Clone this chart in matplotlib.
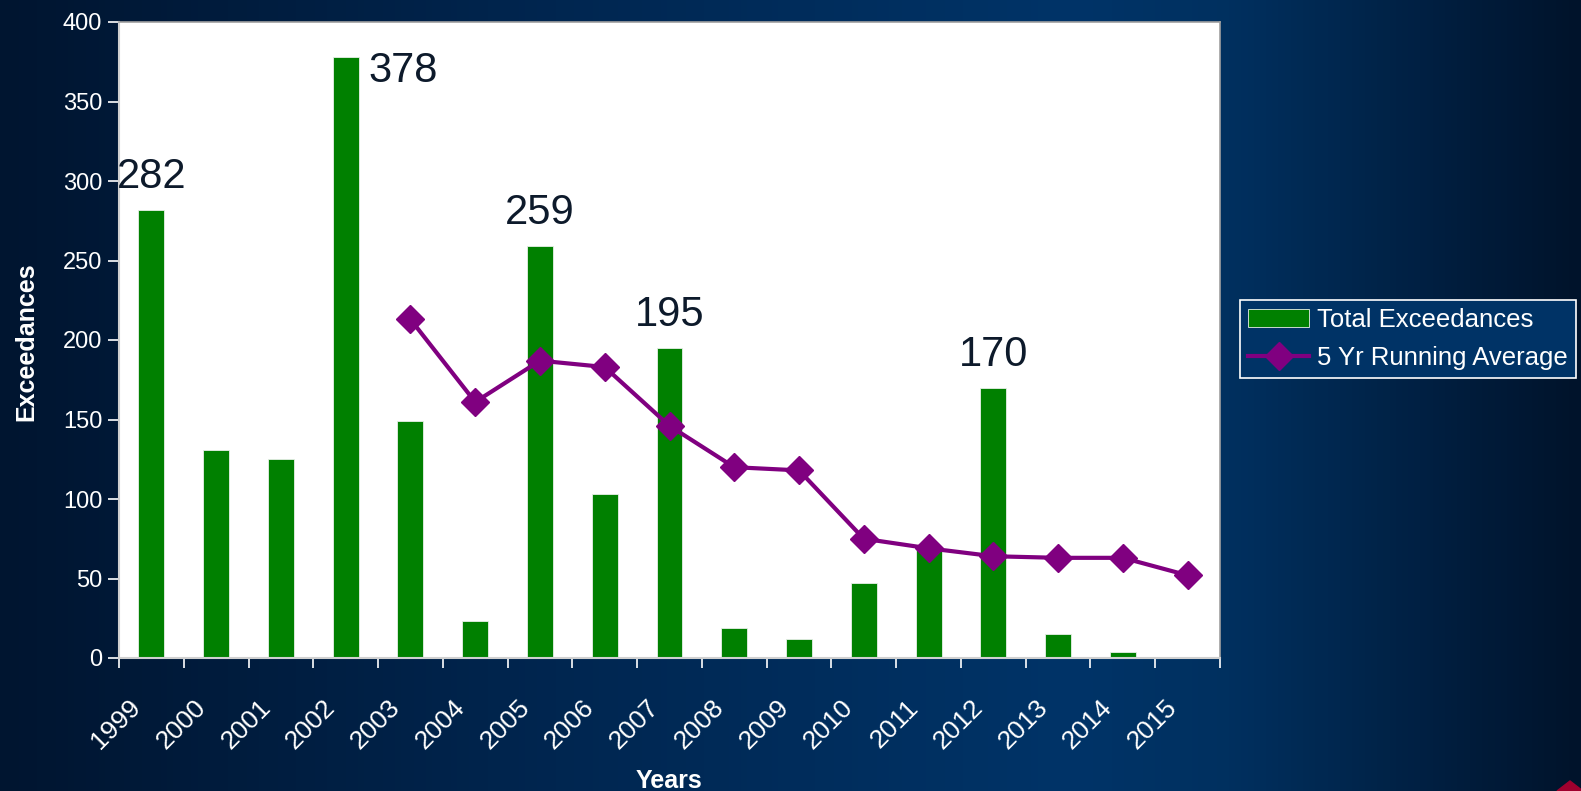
import numpy as np
import matplotlib
matplotlib.use("Agg")
import matplotlib.pyplot as plt
from matplotlib.colors import LinearSegmentedColormap
from matplotlib.patches import Polygon

plt.rcParams['font.family'] = ['Liberation Sans', 'DejaVu Sans']

years = ['1999', '2000', '2001', '2002', '2003', '2004', '2005', '2006', '2007',
         '2008', '2009', '2010', '2011', '2012', '2013', '2014', '2015']
total_exceedances = [282, 131, 125, 378, 149, 23, 259, 103, 195, 19, 12, 47, 70, 170, 15, 4, 0]
avg_years = ['2003', '2004', '2005', '2006', '2007', '2008', '2009', '2010',
             '2011', '2012', '2013', '2014', '2015']
running_average = [213, 161, 187, 183, 146, 120, 118, 75, 69, 64, 63, 63, 52]
labelled_years = ['1999', '2002', '2005', '2007', '2012']

W, H = 1581, 791
fig = plt.figure(figsize=(W / 100, H / 100), dpi=100)

# background gradient
bg = fig.add_axes([0, 0, 1, 1], zorder=-10)
cmap = LinearSegmentedColormap.from_list(
    'bg', [(0.0, '#001530'), (0.35, '#002650'), (0.68, '#003468'), (0.78, '#00305f'), (1.0, '#00132b')])
grad = np.linspace(0, 1, 512)[None, :]
bg.imshow(grad, aspect='auto', cmap=cmap, extent=[0, 1, 0, 1])
bg.set_axis_off()
bg.set_xlim(0, 1)
bg.set_ylim(0, 1)
bg.add_patch(Polygon([[1557 / W, 0], [1570 / W, 1 - 781 / H], [1583 / W, 0]],
                     closed=True, color='#a0002e', transform=bg.transAxes))

ax = fig.add_axes([119 / W, 1 - 658 / H, (1220 - 119) / W, (658 - 22) / H])
ax.set_facecolor('white')
x = np.arange(len(years))
ax.bar(x, total_exceedances, width=0.4, color='#008000', edgecolor='#e8f0e8',
       linewidth=0.6, label='Total Exceedances', zorder=2)
xa = [years.index(y) for y in avg_years]
ax.plot(xa, running_average, color='#800080', lw=3, marker='D', ms=14,
        label='5 Yr Running Average', zorder=3)

ax.set_xlim(-0.5, len(years) - 0.5)
ax.set_ylim(0, 400)
ax.set_yticks(np.arange(0, 401, 50))
# label anchors sit slightly left of each category centre (Excel style)
ax.set_xticks(x - 0.22)
ax.set_xticklabels(years, rotation=45, ha='right', va='center', rotation_mode='anchor')
ax.set_xticks(np.arange(-0.5, len(years), 1), minor=True)
ax.tick_params(axis='x', which='major', length=0, pad=33, labelsize=19, labelcolor='white')
ax.tick_params(axis='x', which='minor', length=7, width=1.2, color='white', direction='out')
ax.tick_params(axis='y', length=8, width=1.2, color='white', labelsize=17, labelcolor='white', pad=4)

for s in ['left', 'bottom']:
    ax.spines[s].set_color('#d0d0d0')
    ax.spines[s].set_linewidth(1.5)
for s in ['top', 'right']:
    ax.spines[s].set_color('#a0a0a0')
    ax.spines[s].set_linewidth(1.2)

ax.set_ylabel('Exceedances', fontsize=18, fontweight='bold', color='white', va='center')
ax.yaxis.set_label_coords((26 - 119) / 1101, 0.498)
ax.set_xlabel('Years', fontsize=18, fontweight='bold', color='white', va='center')
ax.xaxis.set_label_coords(0.4995, (658 - 781) / 636)

for y in labelled_years:
    i = years.index(y)
    v = total_exceedances[i]
    if v > 350:
        ax.text(i + 0.35, v - 9, str(v), fontsize=30, color='#0d1a2b', ha='left', va='center')
    else:
        ax.text(i, v + 8, str(v), fontsize=30, color='#0d1a2b', ha='center', va='bottom')

handles, labels = ax.get_legend_handles_labels()
order = [labels.index('Total Exceedances'), labels.index('5 Yr Running Average')]
leg = ax.legend([handles[k] for k in order], [labels[k] for k in order],
                loc='center left', bbox_to_anchor=(1240 / W, 1 - 339 / H),
                bbox_transform=fig.transFigure, fontsize=18.5, frameon=True,
                facecolor='#003366', edgecolor='white', framealpha=1, fancybox=False,
                borderpad=0.3, labelspacing=0.55, handlelength=2.4, handletextpad=0.3,
                borderaxespad=0)
leg.get_frame().set_linewidth(1.2)
for t in leg.get_texts():
    t.set_color('white')

fig.savefig('out.png', dpi=100)
